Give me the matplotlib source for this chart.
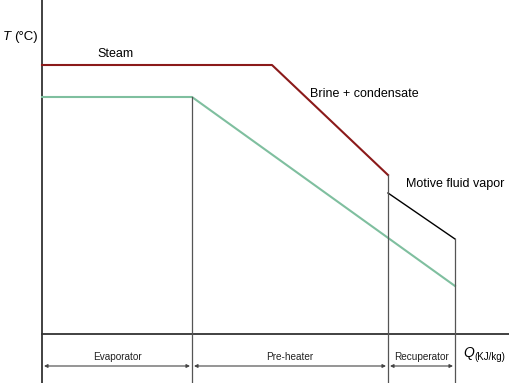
import matplotlib.pyplot as plt

plt.rcParams['font.family'] = ['Liberation Sans', 'DejaVu Sans']

# schematic T-Q diagram, values in diagram units (Q to the right, T upward)
steam_q = [0, 230, 346]
steam_t = [269, 269, 159]
brine_q = [0, 150, 413]
brine_t = [237, 237, 48]
vapor_q = [346, 413]
vapor_t = [141, 95]
section_q = [0, 150, 346, 413]
section_top = [237, 159, 95]
sections = ["Evaporator", "Pre-heater", "Recuperator"]

fig = plt.figure(figsize=(5.1, 3.83), dpi=100)
ax = fig.add_axes([0, 0, 1, 1])
ax.set_xlim(-42, 468)
ax.set_ylim(-49, 334)
ax.axis('off')

# axes
ax.plot([0, 0], [-49, 334], color='#333333', lw=1.3)
ax.plot([0, 468], [0, 0], color='#333333', lw=1.3)

ax.plot(steam_q, steam_t, color='#8b1a1a', lw=1.5)
ax.plot(brine_q, brine_t, color='#7fbf9f', lw=1.5)
ax.plot(vapor_q, vapor_t, color='black', lw=1.0)

# section dividers
for q, top in zip(section_q[1:], section_top):
    ax.plot([q, q], [-49, top], color='#555555', lw=0.9)

# section arrows and labels
for i, name in enumerate(sections):
    a, b = section_q[i], section_q[i + 1]
    ax.annotate('', xy=(a + 2, -32), xytext=(b - 2, -32),
                arrowprops=dict(arrowstyle='<|-|>', color='#444444', lw=0.8,
                                mutation_scale=5, shrinkA=0, shrinkB=0))
    ax.text((a + b) / 2, -23, name, ha='center', va='center', fontsize=7.2, color='#222222')

ax.text(-39, 297, 'T', fontsize=9.5, style='italic', va='center', ha='left')
ax.text(-28, 297, '(°C)', fontsize=9.5, va='center', ha='left')
ax.text(55, 280, 'Steam', fontsize=9, va='center', ha='left')
ax.text(268, 240, 'Brine + condensate', fontsize=9, va='center', ha='left')
ax.text(364, 150, 'Motive fluid vapor', fontsize=9, va='center', ha='left')
ax.text(421, -19, 'Q', fontsize=10, style='italic', va='center', ha='left')
ax.text(432, -23, '(KJ/kg)', fontsize=7, va='center', ha='left')

fig.savefig('out.png', dpi=100)
